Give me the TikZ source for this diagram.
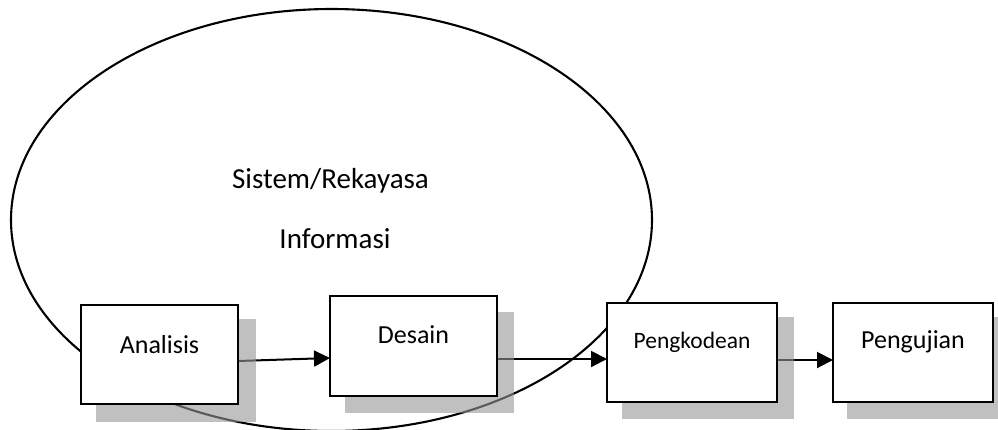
\documentclass[tikz,border=0pt]{standalone}
\usepackage{fontspec}
\setmainfont{Carlito}
\usetikzlibrary{arrows.meta,shapes.geometric}
\begin{document}
\begin{tikzpicture}[x=1pt,y=-1pt,
  boxshape/.style={draw=black, line width=1.9pt, fill=white, inner sep=0pt},
  shadowshape/.style={fill={rgb,255:red,150;green,150;blue,150}, fill opacity=0.6, inner sep=0pt, draw=none},
  lbl/.style={anchor=base, inner sep=0pt, font=\fontsize{26}{30}\selectfont},
  biglbl/.style={anchor=base, inner sep=0pt, font=\fontsize{29}{33}\selectfont},
  flow/.style={line width=2pt, -{Triangle[length=16pt,width=16pt]}},
  ring/.style={draw=black, line width=2.1pt}
]
\useasboundingbox (0,0) rectangle (998,429);
\clip (0,0) rectangle (998,429);
% big ellipse
\node[ring, ellipse, minimum width=641pt, minimum height=422pt, inner sep=0pt] (sys) at (331.5,220) {};
\node[biglbl] (t1) at (330.5,188) {Sistem/Rekayasa};
\node[biglbl] (t2) at (335,248) {Informasi};
% box geometry (centres)
\coordinate (ca) at (159.5,354.5);
\coordinate (cd) at (413.5,346);
\coordinate (cp) at (692,352.5);
\coordinate (cu) at (913,352.5);
% arrows (drawn before shadows)
\coordinate (aR) at (238,361);
\coordinate (dL) at (330,358);
\coordinate (dR) at (497,359);
\coordinate (pL) at (607,359);
\coordinate (pR) at (777,360);
\coordinate (uL) at (833,360);
\draw[flow] (aR) -- (dL);
\draw[flow] (dR) -- (pL);
\draw[flow] (pR) -- (uL);
% shadows
\node[shadowshape, minimum width=160pt, minimum height=103pt] (sa) at (176,370.5) {};
\node[shadowshape, minimum width=169pt, minimum height=101pt] (sd) at (429.5,362.5) {};
\node[shadowshape, minimum width=172pt, minimum height=102pt] (sp) at (708,368) {};
\node[shadowshape, minimum width=163pt, minimum height=102pt] (su) at (928.5,368) {};
% boxes
\node[boxshape, minimum width=157pt, minimum height=99pt] (a) at (ca) {};
\node[boxshape, minimum width=167pt, minimum height=100pt] (d) at (cd) {};
\node[boxshape, minimum width=170pt, minimum height=99pt] (p) at (cp) {};
\node[boxshape, minimum width=160pt, minimum height=99pt] (u) at (cu) {};
% labels
\node[lbl] (ta) at (159.5,353) {Analisis};
\node[lbl] (td) at (413.5,343) {Desain};
\node[lbl, font=\fontsize{23.5}{27}\selectfont] (tp) at (692,348) {Pengkodean};
\node[lbl] (tu) at (913,348) {Pengujian};
\end{tikzpicture}
\end{document}
